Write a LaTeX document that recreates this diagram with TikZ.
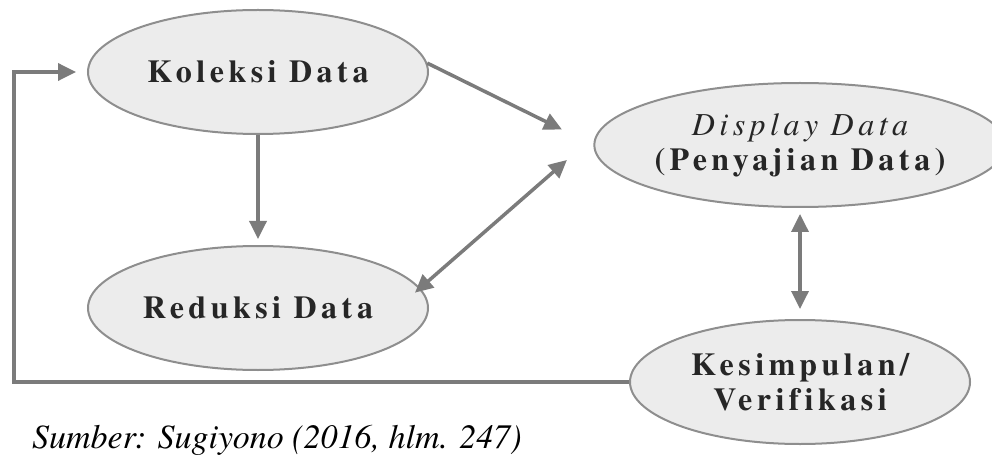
\documentclass[tikz,border=0pt]{standalone}
\usepackage{fontspec}
\IfFontExistsTF{TeX Gyre Termes}{\setmainfont{TeX Gyre Termes}}{\setmainfont{Liberation Serif}}
\newfontfamily\stagefont[LetterSpace=14,Ligatures=NoCommon]{TeX Gyre Termes}
\usetikzlibrary{arrows.meta,positioning,shapes.geometric}
\definecolor{bubble}{HTML}{ECECEC}
\definecolor{rim}{HTML}{8E8E8E}
\definecolor{wire}{HTML}{7B7B7B}

\begin{document}
\begin{tikzpicture}[x=1pt,y=-1pt,
    stage/.style={ellipse, draw=rim, line width=2pt, fill=bubble,
        minimum width=340pt, minimum height=124pt, inner sep=0pt,
        align=center, text=black!85,
        font=\stagefont\fontsize{32}{35}\selectfont\bfseries},
    flow/.style={draw=wire, line width=3.5pt, -{Triangle[length=18pt,width=17pt]}},
    twoway/.style={flow, {Triangle[length=18pt,width=17pt]}-{Triangle[length=18pt,width=17pt]}}]
    \useasboundingbox (0,0) rectangle (992,462);
    \node[stage] (koleksi) at (258,72) {Koleksi Data};
    \node[stage] (reduksi) at (258,308) {Reduksi Data};
    \node[stage] (display) at (800,145) {{\mdseries\itshape Display Data}\\(Penyajian Data)};
    \node[stage] (kesimpulan) at (800,382) {Kesimpulan/\\Verifikasi};
    \coordinate (corner) at (14,382);
    \draw[flow, shorten >=6pt] (koleksi.south) -- (reduksi.north);
    \draw[flow, shorten >=35pt] (koleksi.3) -- (display.west);
    \draw[twoway, shorten <=-7pt, shorten >=39pt] (reduksi.7) -- (display.177);
    \draw[twoway, shorten <=6pt, shorten >=10pt] (display.south) -- (kesimpulan.north);
    \draw[flow, shorten >=11pt] (kesimpulan.west) -- (corner) |- (koleksi.west);
    \node[anchor=base west, inner sep=0pt, font=\itshape\fontsize{34}{38}\selectfont] (sumber) at (32,448) {Sumber: Sugiyono (2016, hlm. 247)};
\end{tikzpicture}
\end{document}
